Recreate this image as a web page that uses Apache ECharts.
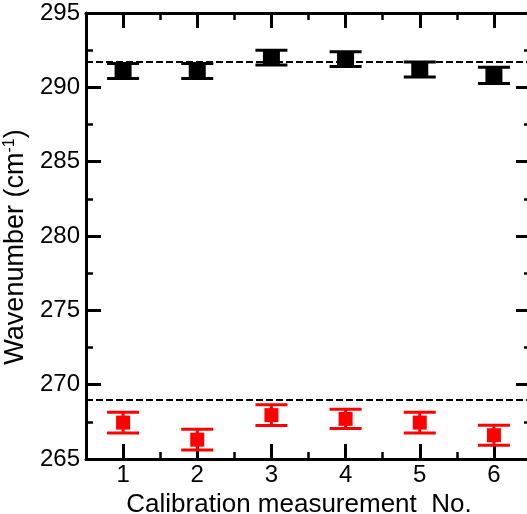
<!DOCTYPE html>
<html>
<head>
<meta charset="utf-8">
<script src="https://cdn.jsdelivr.net/npm/echarts@6/dist/echarts.min.js"></script>
<style>
  html, body { margin: 0; padding: 0; background: #fff; }
  #chart { width: 527px; height: 514px; }
</style>
</head>
<body>
<div id="chart"></div>
<script>
// Calibration runs
const measurementNo = [1, 2, 3, 4, 5, 6];
const xTickLabels = [1, 2, 3, 4, 5, 6];

// Upper band (black) – wavenumber and uncertainty, cm^-1
const upperMean = [291.1, 291.1, 292.0, 291.9, 291.2, 290.8];
const upperErr  = [0.5, 0.5, 0.5, 0.5, 0.5, 0.55];
const upperRef  = 291.75;

// Lower band (red) – wavenumber and uncertainty, cm^-1
const lowerMean = [267.45, 266.3, 267.95, 267.7, 267.45, 266.6];
const lowerErr  = [0.7, 0.7, 0.7, 0.65, 0.7, 0.67];
const lowerRef  = 269.0;

const FONT = '"Liberation Sans", Arial, sans-serif';

function points(mean) {
  return measurementNo.map((n, i) => [n, mean[i]]);
}
function ranges(mean, err) {
  return measurementNo.map((n, i) => [n, mean[i] - err[i], mean[i] + err[i]]);
}

function errorBars(color, capHalf) {
  return function (params, api) {
    const x = api.value(0);
    const lo = api.coord([x, api.value(1)]);
    const hi = api.coord([x, api.value(2)]);
    const style = { stroke: color, lineWidth: 3 };
    return {
      type: 'group',
      children: [
        { type: 'line', shape: { x1: lo[0], y1: lo[1], x2: hi[0], y2: hi[1] }, style: style },
        { type: 'line', shape: { x1: lo[0] - capHalf, y1: lo[1], x2: lo[0] + capHalf, y2: lo[1] }, style: style },
        { type: 'line', shape: { x1: hi[0] - capHalf, y1: hi[1], x2: hi[0] + capHalf, y2: hi[1] }, style: style }
      ]
    };
  };
}

function xAxisDef(position, withLabels) {
  return {
    type: 'value',
    position: position,
    min: 0.5, max: 6.5, interval: 1,
    axisLine: { show: true, onZero: false, lineStyle: { color: '#000', width: 3 } },
    // half-step ticks are the short ones, integer positions get the long minor ticks
    axisTick: { show: true, inside: true, length: 7, lineStyle: { color: '#000', width: 2.5 } },
    minorTick: { show: true, splitNumber: 2, length: 15, lineStyle: { color: '#000', width: 3 } },
    axisLabel: withLabels ? {
      show: true, customValues: xTickLabels, color: '#000',
      fontFamily: FONT, fontSize: 24, margin: 4
    } : { show: false },
    splitLine: { show: false },
    minorSplitLine: { show: false }
  };
}

function yAxisDef(position, withLabels) {
  return {
    type: 'value',
    position: position,
    min: 265, max: 295, interval: 5,
    axisLine: { show: true, onZero: false, lineStyle: { color: '#000', width: 3 } },
    axisTick: { show: true, inside: true, length: 15, lineStyle: { color: '#000', width: 3 } },
    minorTick: { show: true, splitNumber: 2, length: 7, lineStyle: { color: '#000', width: 2.5 } },
    axisLabel: withLabels ? {
      show: true, color: '#000', fontFamily: FONT, fontSize: 24, margin: 6
    } : { show: false },
    splitLine: { show: false },
    minorSplitLine: { show: false }
  };
}

const xBottom = xAxisDef('bottom', true);
xBottom.name = 'Calibration measurement  No.';
xBottom.nameLocation = 'middle';
xBottom.nameGap = 28;
xBottom.nameTextStyle = { color: '#000', fontFamily: FONT, fontSize: 26, padding: [0, 19, 0, 0] };

const yLeft = yAxisDef('left', true);
yLeft.name = 'Wavenumber (cm{sup|-1})';
yLeft.nameLocation = 'middle';
yLeft.nameGap = 41;
yLeft.nameTextStyle = {
  color: '#000', fontFamily: FONT, fontSize: 27, padding: [0, 22, 0, 0],
  rich: {
    sup: { fontFamily: FONT, fontSize: 16, color: '#000', verticalAlign: 'top', padding: [0, 0, 12, 0] }
  }
};

const chart = echarts.init(document.getElementById('chart'), null, { renderer: 'canvas' });
chart.setOption({
  animation: false,
  backgroundColor: '#fff',
  grid: { left: 86, right: -4, top: 13, bottom: 55, containLabel: false, outerBoundsMode: 'none' },
  xAxis: [xBottom, xAxisDef('top', false)],
  yAxis: [yLeft, yAxisDef('right', false)],
  series: [
    {
      type: 'custom', xAxisIndex: 0, yAxisIndex: 0,
      renderItem: errorBars('#000', 16),
      data: ranges(upperMean, upperErr), z: 3
    },
    {
      type: 'scatter', xAxisIndex: 0, yAxisIndex: 0,
      symbol: 'rect', symbolSize: [17, 15],
      itemStyle: { color: '#000', opacity: 1 },
      data: points(upperMean), z: 4,
      markLine: {
        silent: true, symbol: 'none', label: { show: false },
        lineStyle: { color: '#000', width: 2, type: [7, 3] },
        data: [{ yAxis: upperRef }]
      }
    },
    {
      type: 'custom', xAxisIndex: 0, yAxisIndex: 0,
      renderItem: errorBars('#ff0000', 16),
      data: ranges(lowerMean, lowerErr), z: 3
    },
    {
      type: 'scatter', xAxisIndex: 0, yAxisIndex: 0,
      symbol: 'rect', symbolSize: 14,
      itemStyle: { color: '#ff0000', opacity: 1 },
      data: points(lowerMean), z: 4,
      markLine: {
        silent: true, symbol: 'none', label: { show: false },
        lineStyle: { color: '#000', width: 2, type: [7, 3] },
        data: [{ yAxis: lowerRef }]
      }
    }
  ]
});
</script>
</body>
</html>
